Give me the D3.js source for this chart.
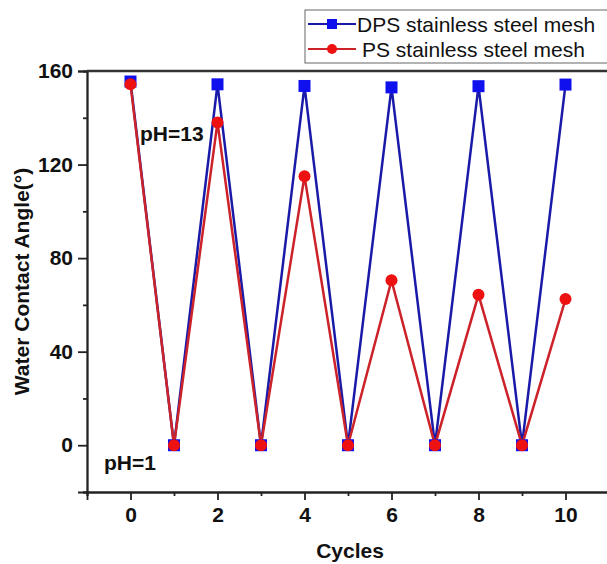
<!DOCTYPE html>
<html>
<head>
<meta charset="utf-8">
<script src="https://cdn.jsdelivr.net/npm/d3@7"></script>
<style>
  body { margin: 0; background: #fff; }
  svg { display: block; font-family: Arial, "Liberation Sans", sans-serif; }
</style>
</head>
<body>
<svg id="chart"></svg>
<script>
const width = 607
const height = 564

const cycles = [0, 1, 2, 3, 4, 5, 6, 7, 8, 9, 10]
const dps = [155.5, 0, 154.3, 0, 153.6, 0, 153.0, 0, 153.5, 0, 154.2]
const ps = [154.3, 0, 138, 0, 115, 0, 70.5, 0, 64.3, 0, 62.5]
const xTicks = [0, 2, 4, 6, 8, 10]
const yTicks = [0, 40, 80, 120, 160]
const seriesNames = ["DPS stainless steel mesh", "PS stainless steel mesh"]

const svg = d3.select('#chart')
    .attr("width", width)
    .attr("height", height)

const x = d3.scaleLinear().domain([-1, 11]).range([87, 609])
const y = d3.scaleLinear().domain([-20, 160]).range([492, 71])

// axes
const xAxis = d3.axisBottom(x).tickValues(xTicks).tickSize(8).tickPadding(7).tickFormat(d3.format("d"))
const xMinor = d3.axisBottom(x).tickValues(d3.range(-1, 12, 2)).tickSize(4).tickFormat("")
const yAxis = d3.axisLeft(y).tickValues(yTicks).tickSize(9).tickPadding(5).tickFormat(d3.format("d"))
const yMinor = d3.axisLeft(y).tickValues(d3.range(-20, 161, 40)).tickSize(4).tickFormat("")

const styleAxis = g => {
    g.selectAll("path, line").attr("stroke", "#222").attr("stroke-width", 1.8)
    g.selectAll("text").attr("fill", "#111").style("font-size", "21px").style("font-weight", "bold")
}

svg.append("g").attr("transform", `translate(0,${y(-20)})`).call(xMinor).call(styleAxis)
svg.append("g").attr("transform", `translate(0,${y(-20)})`).call(xAxis).call(styleAxis)
svg.append("g").attr("transform", `translate(${x(-1)},0)`).call(yMinor).call(styleAxis)
svg.append("g").attr("transform", `translate(${x(-1)},0)`).call(yAxis).call(styleAxis)

// top frame
svg.append("line")
    .attr("x1", x(-1)).attr("x2", x(11))
    .attr("y1", y(160)).attr("y2", y(160))
    .attr("stroke", "#333").attr("stroke-width", 2.5)

// lines (red drawn over blue)
const line = d3.line().x((d, i) => x(cycles[i])).y(d => y(d))

svg.append("path").datum(dps)
    .attr("fill", "none").attr("stroke", "#1a1aa8").attr("stroke-width", 2.5)
    .attr("d", line)
svg.append("path").datum(ps)
    .attr("fill", "none").attr("stroke", "#cc2229").attr("stroke-width", 2.5)
    .attr("d", line)

// markers
svg.append("g").selectAll("rect").data(dps).join("rect")
    .attr("x", (d, i) => x(cycles[i]) - 6)
    .attr("y", d => y(d) - 6)
    .attr("width", 12).attr("height", 12)
    .attr("fill", "#1010ee")
svg.append("g").selectAll("circle").data(ps).join("circle")
    .attr("cx", (d, i) => x(cycles[i]))
    .attr("cy", d => y(d))
    .attr("r", 6)
    .attr("fill", "#ee1111")

// annotations
svg.append("text").attr("x", 140).attr("y", 141)
    .style("font-size", "21px").style("font-weight", "bold").attr("fill", "#111")
    .text("pH=13")
svg.append("text").attr("x", 104).attr("y", 470)
    .style("font-size", "21px").style("font-weight", "bold").attr("fill", "#111")
    .text("pH=1")

// axis titles
svg.append("text")
    .attr("x", 350).attr("y", 558)
    .attr("text-anchor", "middle")
    .style("font-size", "21px").style("font-weight", "bold").attr("fill", "#111")
    .text("Cycles")
svg.append("text")
    .attr("transform", `translate(29,${(71 + 492) / 2}) rotate(-90)`)
    .attr("text-anchor", "middle")
    .style("font-size", "21px").style("font-weight", "bold").attr("fill", "#111")
    .text("Water Contact Angle(°)")

// legend
svg.append("rect")
    .attr("x", 305).attr("y", 10).attr("width", 310).attr("height", 53)
    .attr("fill", "#fff").attr("stroke", "#666").attr("stroke-width", 1)

const legendColors = [["#1a1aa8", "#1010ee"], ["#cc2229", "#ee1111"]]
seriesNames.forEach((name, i) => {
    const ly = 24 + i * 25
    svg.append("line").attr("x1", 308).attr("x2", 356).attr("y1", ly).attr("y2", ly)
        .attr("stroke", legendColors[i][0]).attr("stroke-width", 2)
    if (i === 0) {
        svg.append("rect").attr("x", 327).attr("y", ly - 5).attr("width", 10).attr("height", 10)
            .attr("fill", legendColors[i][1])
    } else {
        svg.append("circle").attr("cx", 332).attr("cy", ly).attr("r", 5)
            .attr("fill", legendColors[i][1])
    }
    svg.append("text").attr("x", i === 0 ? 357 : 362).attr("y", ly + 8)
        .style("font-size", "21px").attr("fill", "#111")
        .text(name)
})
</script>
</body>
</html>
